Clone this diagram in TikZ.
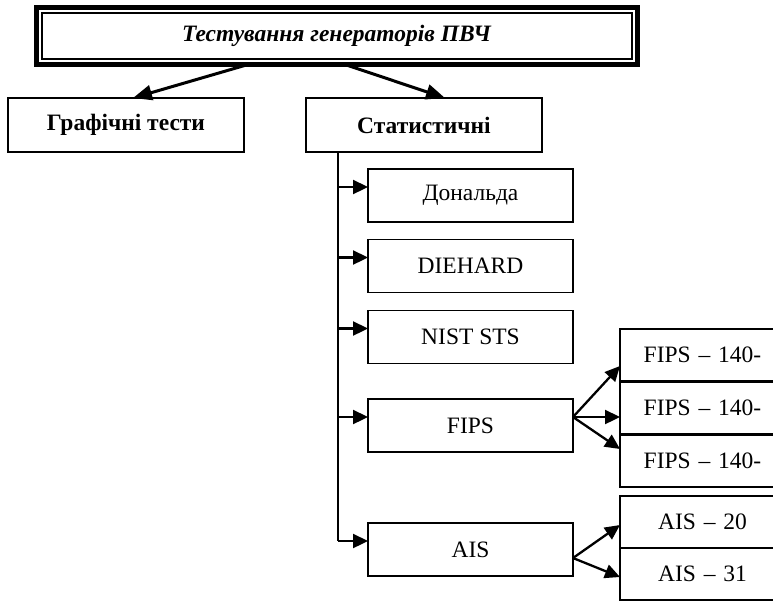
\documentclass[tikz,border=0pt]{standalone}
\usepackage{fontspec}
\setmainfont{Liberation Serif}
\usetikzlibrary{arrows.meta}

\begin{document}
\begin{tikzpicture}[x=1pt, y=-1pt,
  box/.style={draw, line width=1.9pt, outer sep=0pt, inner sep=0pt,
    minimum width=205pt, minimum height=53pt,
    font=\fontsize{23.5}{28}\selectfont},
  sub/.style={box, minimum width=165pt, minimum height=52pt, text width=150pt, align=center},
  harrow/.style={line width=2.3pt, -{Triangle[length=15pt, width=14pt]}},
  tarrow/.style={line width=3pt, -{Triangle[length=19pt, width=15pt]}}]
  \useasboundingbox (0,0) rectangle (773,611);
  \clip (0,0) rectangle (773,611);
  % Title
  \node[box, line width=5pt, minimum width=601pt, minimum height=57pt,
    font=\fontsize{23.5}{28}\selectfont\bfseries\itshape] (title) at (336.5,36)
    {Тестування генераторів ПВЧ};
  \draw[line width=1.3pt] ([shift={(6pt,-5.5pt)}]title.north west)
    rectangle ([shift={(-5pt,5.5pt)}]title.south east);
  % Two groups
  \node[box, minimum width=236pt, minimum height=54pt, font=\fontsize{23.5}{28}\selectfont\bfseries]
    (graph) at (126,125) {Графічні тести};
  \node[box, minimum width=236pt, minimum height=54pt, font=\fontsize{23.5}{28}\selectfont\bfseries]
    (stat) at (424,125) {Статистичні};
  \draw[tarrow] ([xshift=-88.5pt]title.south) -- ([xshift=7pt]graph.north);
  \draw[tarrow] ([xshift=8.5pt]title.south) -- ([xshift=21pt]stat.north);
  % Statistical tests
  \node[box] (don)  at (470.5,195.5) {Дональда};
  \node[box] (dieh) at (470.5,266) {DIEHARD};
  \node[box] (nist) at (470.5,337) {NIST STS};
  \node[box] (fips) at (470.5,425.5) {FIPS};
  \node[box] (ais)  at (470.5,549.5) {AIS};
  % Trunk
  \coordinate (tr) at ([xshift=32pt]stat.south west);
  \foreach \b in {don,dieh,nist,fips,ais}
    \path ([yshift=8.5pt]\b.west) coordinate (\b-in);
  \draw[line width=1.7pt] (tr) -- (tr |- ais-in);
  \foreach \b in {don,dieh,nist,fips,ais}
    \draw[harrow] (tr |- \b-in) -- (\b-in);
  % FIPS 140
  \node[sub] (fa) at (702.5,355) {FIPS -- 140-};
  \node[sub] (fb) at (702.5,408) {FIPS -- 140-};
  \node[sub] (fc) at (702.5,461) {FIPS -- 140-};
  \coordinate (fips-out) at ([yshift=8.5pt]fips.east);
  \draw[harrow] (fips-out) -- ([yshift=15pt]fa.south west);
  \draw[harrow] (fips-out) -- ([yshift=-9pt]fb.west);
  \draw[harrow] (fips-out) -- ([yshift=-14pt]fc.north west);
  % AIS
  \node[sub] (aa) at (702.5,522) {AIS -- 20};
  \node[sub] (ab) at (702.5,574) {AIS -- 31};
  \coordinate (ais-out) at ([yshift=-8.5pt]ais.east);
  \draw[harrow] (ais-out) -- ([yshift=-3pt]aa.west);
  \draw[harrow] (ais-out) -- ([yshift=-3pt]ab.west);
\end{tikzpicture}
\end{document}
